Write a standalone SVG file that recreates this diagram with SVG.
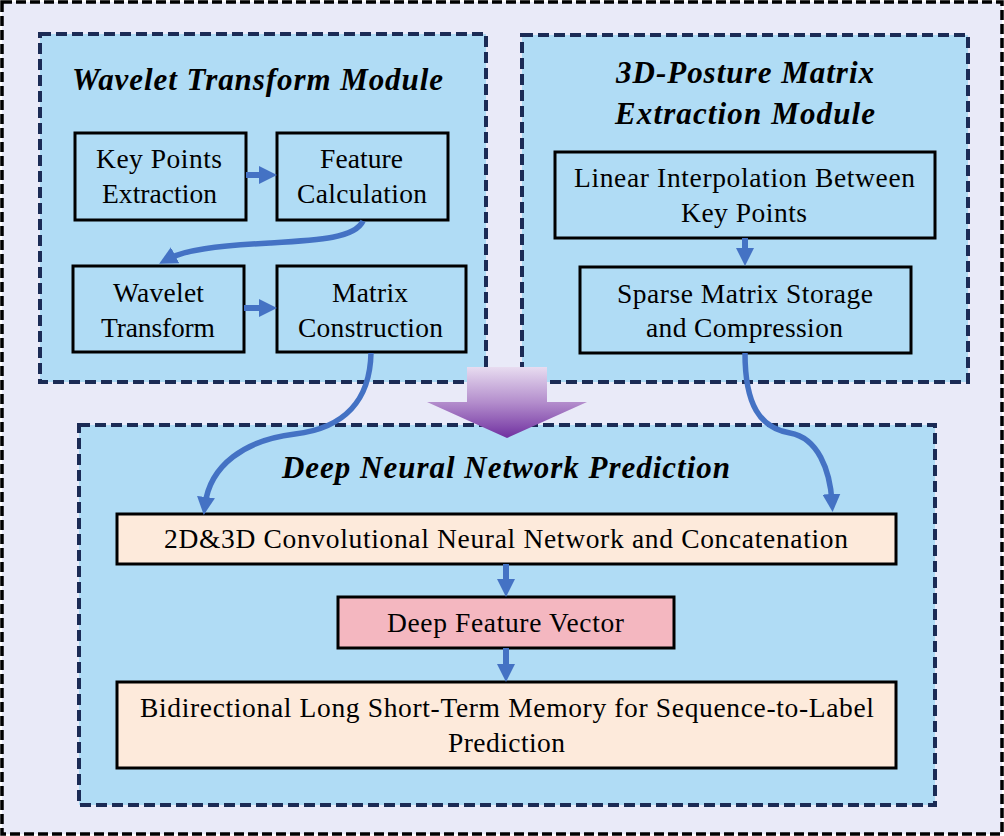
<svg xmlns="http://www.w3.org/2000/svg" width="1004" height="836" viewBox="0 0 1004 836">
<style>
.outer{fill:#e9eaf8;stroke:#000;stroke-width:3.5;stroke-dasharray:10 4}
.mod{fill:#b0dcf5;stroke:#1b2b55;stroke-width:4;stroke-dasharray:11 5}
.box{fill:#b0dcf5;stroke:#000;stroke-width:3}
.peach{fill:#fdeadb;stroke:#000;stroke-width:3}
.pink{fill:#f4b7c0;stroke:#000;stroke-width:3}
text{font-family:'Liberation Serif','Times New Roman',serif}
.t{font-size:27.5px;fill:#000}
.h{font-size:31px;font-weight:bold;font-style:italic;fill:#000}
.c{fill:none;stroke:#4472c4;stroke-width:5.5;marker-end:url(#ah)}
.s{fill:none;stroke:#4472c4;stroke-width:6;marker-end:url(#ah)}
</style>
<defs>
<marker id="ah" markerUnits="userSpaceOnUse" markerWidth="18" markerHeight="18" viewBox="0 0 18 18" refX="8" refY="9" orient="auto">
<path d="M0,0 L18,9 L0,18 z" fill="#4472c4"/>
</marker>
<linearGradient id="pg" gradientUnits="userSpaceOnUse" x1="0" y1="367" x2="0" y2="438">
<stop offset="0" stop-color="#e8dcf0"/>
<stop offset="0.5" stop-color="#b38dcc"/>
<stop offset="1" stop-color="#7030a0"/>
</linearGradient>
</defs>
<rect id="background" class="outer" x="2" y="2" width="1000" height="832"/>

<g id="wavelet-module">
<rect class="mod" x="40" y="34" width="446" height="348"/>
<text class="h" x="72" y="90" textLength="371" lengthAdjust="spacing">Wavelet Transform Module</text>
</g>
<g id="posture-module">
<rect class="mod" x="522" y="35" width="446" height="347"/>
<text class="h" x="616" y="83" textLength="258" lengthAdjust="spacing">3D-Posture Matrix</text>
<text class="h" x="615" y="124" textLength="260" lengthAdjust="spacing">Extraction Module</text>
</g>
<g id="dnn-module">
<rect class="mod" x="79" y="425" width="856" height="380"/>
<text class="h" x="282" y="478" textLength="448" lengthAdjust="spacing">Deep Neural Network Prediction</text>
</g>

<g id="key-points">
<rect class="box" x="75" y="133" width="171" height="87"/>
<text class="t" x="96" y="168" textLength="126" lengthAdjust="spacing">Key Points</text>
<text class="t" x="102" y="203" textLength="115" lengthAdjust="spacing">Extraction</text>
</g>
<g id="feature-calc">
<rect class="box" x="277" y="133" width="171" height="87"/>
<text class="t" x="320" y="168" textLength="83" lengthAdjust="spacing">Feature</text>
<text class="t" x="297" y="203" textLength="130" lengthAdjust="spacing">Calculation</text>
</g>
<g id="wavelet-transform">
<rect class="box" x="73" y="266" width="171" height="86"/>
<text class="t" x="113" y="302" textLength="91" lengthAdjust="spacing">Wavelet</text>
<text class="t" x="101" y="337" textLength="114" lengthAdjust="spacing">Transform</text>
</g>
<g id="matrix-construction">
<rect class="box" x="277" y="266" width="189" height="86"/>
<text class="t" x="332" y="302" textLength="76" lengthAdjust="spacing">Matrix</text>
<text class="t" x="298" y="337" textLength="145" lengthAdjust="spacing">Construction</text>
</g>
<g id="linear-interp">
<rect class="box" x="555" y="152" width="380" height="86"/>
<text class="t" x="574" y="187" textLength="341" lengthAdjust="spacing">Linear Interpolation Between</text>
<text class="t" x="681" y="222" textLength="126" lengthAdjust="spacing">Key Points</text>
</g>
<g id="sparse-matrix">
<rect class="box" x="580" y="267" width="331" height="86"/>
<text class="t" x="617" y="303" textLength="256" lengthAdjust="spacing">Sparse Matrix Storage</text>
<text class="t" x="646" y="337" textLength="197" lengthAdjust="spacing">and Compression</text>
</g>
<g id="cnn">
<rect class="peach" x="117" y="514" width="779" height="50"/>
<text class="t" x="164" y="548" textLength="684" lengthAdjust="spacing">2D&amp;3D Convolutional Neural Network and Concatenation</text>
</g>
<g id="deep-feature">
<rect class="pink" x="338" y="597" width="336" height="51"/>
<text class="t" x="387" y="632" textLength="237" lengthAdjust="spacing">Deep Feature Vector</text>
</g>
<g id="bilstm">
<rect class="peach" x="117" y="682" width="779" height="86"/>
<text class="t" x="140" y="717" textLength="734" lengthAdjust="spacing">Bidirectional Long Short-Term Memory for Sequence-to-Label</text>
<text class="t" x="448" y="752" textLength="117" lengthAdjust="spacing">Prediction</text>
</g>

<g id="connectors">
<path class="s" d="M246,175 L267,175"/>
<path class="c" d="M363,221 C355,238 320,240 270,243 C215,246 185,250 168,259"/>
<path class="s" d="M244,308 L267,308"/>
<path class="s" d="M745,238 L745,256"/>
<path class="c" d="M371,353 C370,400 345,428 295,434 C245,440 210,465 205,505"/>
<path class="c" d="M745,353 C745,405 760,428 790,433 C818,438 830,470 832,502"/>
<path class="s" d="M506,564 L506,587"/>
<path class="s" d="M506,648 L506,672"/>
<path d="M467,367 L547,367 L547,402 L587,402 L507,438 L427,402 L467,402 Z" fill="url(#pg)"/>
</g>
</svg>
